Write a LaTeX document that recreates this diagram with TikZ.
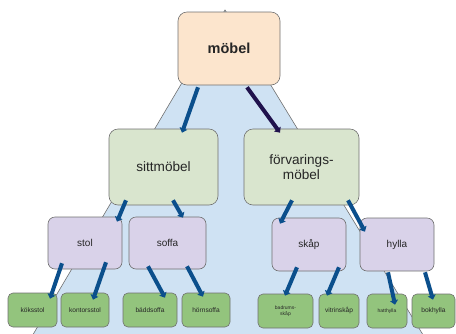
\documentclass[tikz,border=0pt]{standalone}
\usepackage{fontspec}
\setmainfont{Liberation Sans}
\usetikzlibrary{arrows.meta}
\definecolor{tri}{HTML}{CFE2F3}
\definecolor{peach}{HTML}{FCE5CD}
\definecolor{lgreen}{HTML}{D9E5CE}
\definecolor{lav}{HTML}{D9D2E9}
\definecolor{leafg}{HTML}{93C47D}
\definecolor{arrblue}{HTML}{0B4F8C}
\definecolor{arrpurple}{HTML}{20124D}
\definecolor{edge}{HTML}{707070}
\tikzset{
  x=1pt, y=1pt,
  box/.style={draw=edge, line width=0.6pt, rounded corners=9pt, inner sep=1pt, align=center, text=black!85},
  top/.style={box, fill=peach, minimum width=102pt, minimum height=73pt, font=\bfseries\fontsize{14.5}{16}\selectfont},
  lvtwo/.style={box, fill=lgreen, minimum height=76pt, font=\fontsize{13.6}{15.5}\selectfont},
  lvthree/.style={box, fill=lav, minimum width=74pt, minimum height=52pt, rounded corners=7pt, font=\fontsize{10}{12}\selectfont},
  leaf/.style={box, fill=leafg, minimum height=34pt, rounded corners=5pt, font=\fontsize{6.6}{7.5}\selectfont},
  tinyleaf/.style={leaf, font=\fontsize{5}{6}\selectfont},
  arr/.style={draw=arrblue, line width=4pt, -{Triangle[length=4.5pt,width=8pt]}},
  arrp/.style={arr, draw=arrpurple},
}
\begin{document}
\begin{tikzpicture}
\useasboundingbox (0,0) rectangle (456,-333);
\begin{scope}
\clip (0,0) rectangle (456,-333);
\draw[fill=tri, draw=edge, line width=0.6pt] (225,-10) -- (28,-343) -- (428,-343) -- cycle;
\end{scope}
% nodes
\node[top] (m) at (229,-48.5) {möbel};
\node[lvtwo, minimum width=109pt] (s) at (163.5,-167) {sittmöbel};
\node[lvtwo, minimum width=115pt] (f) at (301.5,-167) {förvarings-\\möbel};
\node[lvthree] (st) at (85,-243) {stol};
\node[lvthree, minimum width=77pt] (so) at (167.5,-243) {soffa};
\node[lvthree, minimum height=53pt] (sk) at (309,-244.5) {skåp};
\node[lvthree, minimum height=53pt] (hy) at (397,-244.5) {hylla};
\node[leaf, minimum width=49pt] (l1) at (32.5,-310) {köksstol};
\node[leaf, minimum width=48pt] (l2) at (85,-310) {kontorsstol};
\node[leaf, minimum width=54pt] (l3) at (150,-310) {bäddsoffa};
\node[leaf, minimum width=48pt] (l4) at (206,-310) {hörnsoffa};
\node[tinyleaf, minimum width=55pt] (l5) at (285.5,-311) {badrums-\\skåp};
\node[leaf, minimum width=40pt] (l6) at (339,-311) {vitrinskåp};
\node[tinyleaf, minimum width=40pt] (l7) at (387,-311) {hatthylla};
\node[leaf, minimum width=43pt] (l8) at (433.5,-311) {bokhylla};
% connectors
\draw[arr] ([shift={(-31,-2)}]m.south) -- ([shift={(18.5,-4)}]s.north);
\draw[arrp] ([shift={(18,-2)}]m.south) -- ([shift={(-21.5,-4)}]f.north);
\draw[arr] ([shift={(-37.5,5)}]s.south) -- ([shift={(32,-5)}]st.north);
\draw[arr] ([shift={(9.5,5)}]s.south) -- ([shift={(15.5,-1)}]so.north);
\draw[arr] ([shift={(-9.5,5)}]f.south) -- ([shift={(-29,-6)}]sk.north);
\draw[arr] ([shift={(46.5,5)}]f.south) -- ([shift={(-32,-14)}]hy.north);
\draw[arr] ([shift={(-23,6)}]st.south) -- ([shift={(17.5,-6)}]l1.north);
\draw[arr] ([shift={(21,7)}]st.south) -- ([shift={(8,-7)}]l2.north);
\draw[arr] ([shift={(-19.5,3)}]so.south) -- ([shift={(15,-5)}]l3.north);
\draw[arr] ([shift={(19.5,3)}]so.south) -- ([shift={(-3,-4)}]l4.north);
\draw[arr] ([shift={(-12,4)}]sk.south) -- ([shift={(-0.5,-2)}]l5.north);
\draw[arr] ([shift={(30,4)}]sk.south) -- ([shift={(-12,-2)}]l6.north);
\draw[arr] ([shift={(-9,-1)}]hy.south) -- ([shift={(8,-11)}]l7.north);
\draw[arr] ([shift={(28,-1)}]hy.south) -- ([shift={(-0.5,-6)}]l8.north);
\end{tikzpicture}
\end{document}
